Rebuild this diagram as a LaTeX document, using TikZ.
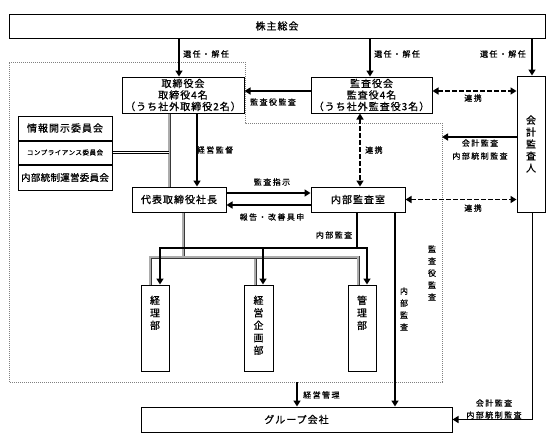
\documentclass[tikz,border=0pt]{standalone}
\usepackage{fontspec}
\setmainfont{Noto Sans CJK JP}
\usetikzlibrary{arrows.meta,calc}
\begin{document}
\begin{tikzpicture}[x=1pt,y=-1pt,
  box/.style={draw,line width=1pt,inner sep=0pt,align=center,fill=white,
    font=\fontsize{10}{11.5}\selectfont\addfontfeatures{LetterSpace=10,FakeBold=0.8}},
  vtext/.style={inner sep=0pt,align=center,
    font=\fontsize{10}{12.5}\selectfont\addfontfeatures{FakeBold=0.8}},
  arr/.style={line width=1.5pt,-{Triangle[length=6pt,width=7pt]}},
  darr/.style={line width=1.5pt,dash pattern=on 4.5pt off 2.5pt,
    {Triangle[length=6pt,width=7pt]}-{Triangle[length=6pt,width=7pt]}},
  lbl/.style={inner sep=1pt,font=\fontsize{8}{10}\selectfont\addfontfeatures{LetterSpace=18,FakeBold=0.6}},
  vlbl/.style={inner sep=0pt,align=center,font=\fontsize{8}{12}\selectfont\addfontfeatures{FakeBold=0.6}},
  gline/.style={draw=gray!45!black,double=gray!65,double distance=1.6pt,line width=0.7pt},
  bline/.style={draw=black,double=white,double distance=1.4pt,line width=0.6pt},
  scope line/.style={draw=gray,line width=0.6pt,dash pattern=on 1pt off 1pt},
]
\useasboundingbox (0,0) rectangle (546,445);

% scope boundary
\draw[scope line] (9,62) -- (245,62) -- (245,123) -- (442,123) -- (442,382) -- (9,382) -- cycle;
\coordinate (bR) at (442,137);
\coordinate (bB) at (297,382);
\coordinate (dbl) at (169,149);

% boxes
\node[box,minimum width=536,minimum height=24] (soukai) at (277,26) {株主総会};
\node[box,minimum width=122,minimum height=36] (tori) at (183,95) {取締役会\\取締役4名\\（うち社外取締役2名）};
\node[box,minimum width=121,minimum height=36] (kansa) at (371.5,95) {監査役会\\監査役4名\\（うち社外監査役3名）};
\node[box,minimum width=28,minimum height=136] (kaikei) at (531,144) {};
\node[vtext,font=\fontsize{10}{12}\selectfont\addfontfeatures{FakeBold=0.8}] (kaikeiT) at (kaikei.center) {会\\計\\監\\査\\人};

\node[box,minimum width=94,minimum height=24] (c1) at (65,128) {情報開示委員会};
\node[box,minimum width=94,minimum height=23,anchor=north,
  font=\fontsize{6.5}{8}\selectfont\addfontfeatures{LetterSpace=8,FakeBold=0.5}] (c2) at (c1.south) {コンプライアンス委員会};
\node[box,minimum width=94,minimum height=25,anchor=north,
  font=\fontsize{9.5}{11}\selectfont\addfontfeatures{LetterSpace=3,FakeBold=0.8}] (c3) at (c2.south) {内部統制運営委員会};

\node[box,minimum width=94,minimum height=25] (daihyo) at (179,199.5) {代表取締役社長};
\node[box,minimum width=94,minimum height=25] (naibu) at (358,199.5) {内部監査室};

\node[box,minimum width=28,minimum height=86] (keiri) at (155,328) {};
\node[box,minimum width=29,minimum height=86] (kikaku) at (258.5,328) {};
\node[box,minimum width=28,minimum height=86] (kanri) at (362,328) {};
\node[vtext,anchor=north] (keiriT) at ([yshift=-11pt]keiri.north) {経\\理\\部};
\node[vtext,anchor=north] (kikakuT) at ([yshift=-11pt]kikaku.north) {経\\営\\企\\画\\部};
\node[vtext,anchor=north] (kanriT) at ([yshift=-11pt]kanri.north) {管\\理\\部};

\node[box,minimum width=311,minimum height=25] (group) at (296.5,419.5) {グループ会社};

% election arrows
\draw[arr] ([xshift=-4pt]tori.north |- soukai.south) -- ([xshift=-4pt]tori.north);
\draw[arr] ([xshift=-1.5pt]kansa.north |- soukai.south) -- ([xshift=-1.5pt]kansa.north);
\draw[arr] ([xshift=1pt]kaikei.north |- soukai.south) -- ([xshift=1pt]kaikei.north);
\node[lbl,anchor=west] (l1) at (182,54) {選任・解任};
\node[lbl,anchor=west] (l2) at (373,54) {選任・解任};
\node[lbl,anchor=east] (l3) at (527,54) {選任・解任};

% audit board -> board
\draw[arr] ([yshift=4pt]kansa.west) -- ([yshift=4pt]tori.east);
\node[lbl] (l4) at (273,102) {監査役監査};
% coordination
\draw[darr] ([yshift=4pt]kansa.east) -- ([yshift=4pt]kansa.east -| kaikei.west);
\node[lbl] (l5) at (473,98) {連携};
\draw[darr] ([xshift=-11.5pt]kansa.south) -- ([xshift=-11.5pt]kansa.south |- naibu.north);
\node[lbl,anchor=west] (l6) at (364,150) {連携};
\draw[darr] (naibu.east) -- (naibu.east -| kaikei.west);
\node[lbl] (l7) at (473,208) {連携};

% accounting auditor
\draw[arr] (kaikei.west |- bR) -- (bR);
\node[lbl] (l8) at (480,143) {会計監査};
\node[lbl] (l9) at (480,156) {内部統制監査};
\draw[arr] ([xshift=1.5pt]kaikei.south) |- (group.east);
\node[lbl] (l10) at (494,403) {会計監査};
\node[lbl] (l11) at (494,415) {内部統制監査};

% board -> president
\draw[gline] ([xshift=-14pt]tori.south) -- ([xshift=-14pt]tori.south |- daihyo.north);
\draw[bline] (c2.east) -- (c2.east -| dbl);
\draw[arr] ([xshift=14pt]tori.south) -- ([xshift=14pt]tori.south |- daihyo.north);
\node[lbl] (l12) at (215,150) {経営監督};

% president <-> internal audit
\draw[arr] ([yshift=6.5pt]daihyo.east) -- ([yshift=6.5pt]naibu.west);
\node[lbl] (l13) at (272,182) {監査指示};
\draw[arr] ([yshift=-5.5pt]naibu.west) -- ([yshift=-5.5pt]daihyo.east);
\node[lbl] (l14) at (272,217) {報告・改善具申};

% president -> departments (gray)
\coordinate (g0) at (183,257);
\draw[gline] ([xshift=4pt]daihyo.south) -- ([xshift=4pt]daihyo.south |- g0);
\draw[gline] ([xshift=-5pt]keiri.north) |- (g0) -| ([xshift=-3.5pt]kikaku.north);
\draw[gline] (g0) -| ([xshift=-4pt]kanri.north);

% internal audit -> departments (black)
\coordinate (k0) at (357,248);
\draw[line width=1.5pt] ([xshift=-1pt]naibu.south) -- (k0);
\draw[arr] (k0) -| ([xshift=5pt]keiri.north);
\draw[arr] (k0 -| kikaku.north) ++(4.5pt,0) -- ([xshift=4.5pt]kikaku.north);
\draw[arr] (k0) -| ([xshift=5pt]kanri.north);
\node[lbl] (l15) at (334,235) {内部監査};

% internal audit -> group
\draw[arr] ([xshift=37pt]naibu.south) -- ([xshift=37pt]naibu.south |- group.north);
\node[vlbl] (l16) at (404,309) {内\\部\\監\\査};
\node[vlbl] (l17) at (432,273) {監\\査\\役\\監\\査};

% management
\draw[arr] (bB) -- (bB |- group.north);
\node[lbl,anchor=west] (l18) at (302,395) {経営管理};
\end{tikzpicture}
\end{document}
